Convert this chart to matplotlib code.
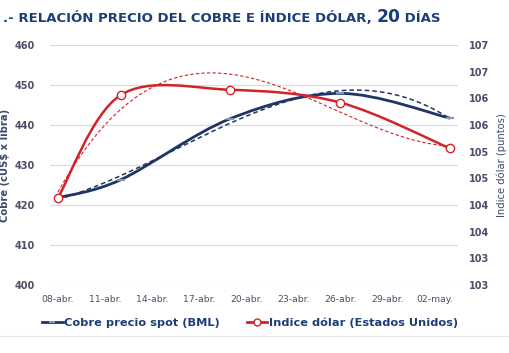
import numpy as np
import matplotlib
matplotlib.use("Agg")
import matplotlib.pyplot as plt
import matplotlib.dates as mdates
from matplotlib.path import Path
from matplotlib.patches import PathPatch
from matplotlib.lines import Line2D
import datetime as dt
import math

# ---------------- data ----------------
dates = ["2013-04-08", "2013-04-12", "2013-04-19", "2013-04-26", "2013-05-03"]
cobre = [421.8, 426.3, 441.6, 447.9, 441.7]
dolar = [104.13, 106.06, 106.16, 105.92, 105.06]
month_abbr = ["ene", "feb", "mar", "abr", "may", "jun", "jul", "ago", "sep", "oct", "nov", "dic"]
title_main = ".- RELACIÓN PRECIO DEL COBRE E ÍNDICE DÓLAR, "
title_num = "20"
title_end = " DÍAS"
ylabel_left = "Cobre (cUS$ x libra)"
ylabel_right = "Indice dólar (puntos)"
legend_labels = ["Cobre precio spot (BML)", "Indice dólar (Estados Unidos)"]

BLUE = "#1F3566"
RED = "#D2232A"
TXT = "#4A4E66"
TITLE = "#1B3D7A"

x = mdates.date2num([dt.datetime.strptime(d, "%Y-%m-%d") for d in dates])

fig = plt.figure(figsize=(5.10, 3.53), dpi=100)
ax = fig.add_axes([50/510, 1-285/353, 408/510, 240/353])
ax2 = ax.twinx()


def smooth_path(xs, ys):
    pts = np.column_stack([xs, ys])
    n = len(pts)
    verts = [pts[0]]
    codes = [Path.MOVETO]
    for i in range(n - 1):
        p0 = pts[i - 1] if i > 0 else pts[i]
        p1 = pts[i]
        p2 = pts[i + 1]
        p3 = pts[i + 2] if i + 2 < n else pts[i + 1]
        c1 = p1 + (p2 - p0) / 6.0
        c2 = p2 - (p3 - p1) / 6.0
        verts += [c1, c2, p2]
        codes += [Path.CURVE4] * 3
    return Path(verts, codes)


# grid
ax.set_ylim(400, 460)
ax.set_yticks(np.arange(400, 461, 10))
ax.grid(axis="y", color="#DCDCDC", lw=0.9)
ax.set_axisbelow(True)
ax.set_xlim(x[0] - 0.5, x[0] + 25.5)
ax2.set_ylim(102.5, 107)
ax2.set_yticks(np.arange(102.5, 107.01, 0.5))
ax2.yaxis.set_major_formatter(plt.FuncFormatter(lambda v, p: str(int(math.floor(v + 0.5)))))

# trendlines (3rd order polynomial fits of the series)
xd = x - x[0]
xx = np.linspace(0, xd[-1], 200)
cb = np.polyfit(xd, cobre, 3)
ax.plot(xx + x[0], np.polyval(cb, xx), color=BLUE, lw=1.1, ls=(0, (3, 2)), zorder=3)
cr = np.polyfit(xd, dolar, 3)
ax2.plot(xx + x[0], np.polyval(cr, xx), color=RED, lw=0.8, ls=(0, (3, 2)), zorder=3)

# smoothed series
ax.add_patch(PathPatch(smooth_path(x, cobre), fc="none", ec=BLUE, lw=2.0, zorder=4))
ax.plot(x, cobre, ls="none", marker="_", ms=6, mew=1.5, color="#8896B8", zorder=5)
ax2.add_patch(PathPatch(smooth_path(x, dolar), fc="none", ec=RED, lw=1.8, zorder=4))
ax2.plot(x, dolar, ls="none", marker="o", ms=6, mfc="white", mec=RED, mew=1.0, zorder=6)

# x axis
ax.set_xticks(np.arange(x[0], x[0] + 25, 3))
ax.xaxis.set_major_formatter(plt.FuncFormatter(
    lambda v, p: "%02d-%s." % (mdates.num2date(v).day, month_abbr[mdates.num2date(v).month - 1])))

for a in (ax, ax2):
    for s in a.spines.values():
        s.set_visible(False)
    a.tick_params(length=0, colors=TXT)
ax.tick_params(axis="x", labelsize=6.7, pad=7)
ax.tick_params(axis="y", labelsize=7, pad=11)
ax2.tick_params(axis="y", labelsize=7, pad=8)
for lab in ax.get_yticklabels() + ax2.get_yticklabels():
    lab.set_fontweight("bold")

ax.set_ylabel(ylabel_left, fontsize=7.2, color="#3C4A6E", fontweight="bold", labelpad=3)
ax2.set_ylabel(ylabel_right, fontsize=7.2, color="#3C4A6E", labelpad=5)

# title
ty = 1 - 22/353
t1 = fig.text(3/510, ty, title_main, fontsize=9.5, fontweight="bold", color=TITLE, va="baseline")
fig.canvas.draw()
bb = t1.get_window_extent()
t2 = fig.text(bb.x1 / 510, ty, title_num, fontsize=12.3, fontweight="bold", color=TITLE, va="baseline")
fig.canvas.draw()
bb2 = t2.get_window_extent()
fig.text(bb2.x1 / 510, ty, title_end, fontsize=9.5, fontweight="bold", color=TITLE, va="baseline")

# legend
h1 = Line2D([], [], color=BLUE, lw=2, marker="_", ms=5, mew=1.5, mec="#8896B8")
h2 = Line2D([], [], color=RED, lw=2, marker="o", ms=5, mfc="white", mec=RED)
leg = fig.legend([h1, h2], legend_labels, loc="center", bbox_to_anchor=(0.49, 1-323/353),
                 ncol=2, frameon=False, fontsize=8.2, handlelength=1.8, handletextpad=0.1,
                 columnspacing=2.4)
for t in leg.get_texts():
    t.set_color(TITLE)
    t.set_fontweight("bold")

fig.add_artist(Line2D([0.0, 1.0], [1-336/353, 1-336/353], color="#E6E6E6", lw=0.8))

fig.savefig("out.png", dpi=100)
